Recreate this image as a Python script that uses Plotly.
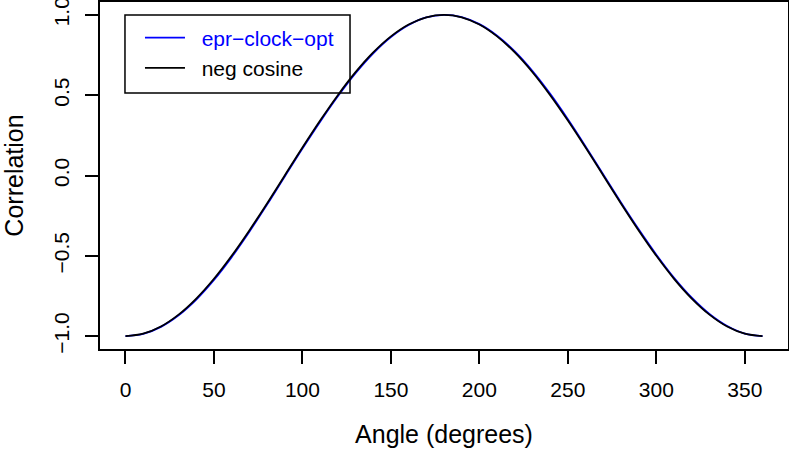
import plotly.graph_objects as go

# angle grid (degrees) and the two correlation curves
angle = [0, 10, 20, 30, 40, 50, 60, 70, 80, 90, 100, 110, 120, 130, 140, 150, 160, 170, 180,
         190, 200, 210, 220, 230, 240, 250, 260, 270, 280, 290, 300, 310, 320, 330, 340, 350, 360]

epr_clock_opt = [-1.0, -0.986, -0.942, -0.870, -0.772, -0.650, -0.508, -0.350, -0.181, -0.006,
                 0.168, 0.335, 0.493, 0.637, 0.761, 0.862, 0.937, 0.984, 1.0,
                 0.986, 0.942, 0.870, 0.772, 0.650, 0.508, 0.350, 0.181, 0.006,
                 -0.168, -0.335, -0.493, -0.637, -0.761, -0.862, -0.937, -0.984, -1.0]

neg_cosine = [-1.0, -0.985, -0.940, -0.866, -0.766, -0.643, -0.500, -0.342, -0.174, 0.0,
              0.174, 0.342, 0.500, 0.643, 0.766, 0.866, 0.940, 0.985, 1.0,
              0.985, 0.940, 0.866, 0.766, 0.643, 0.500, 0.342, 0.174, 0.0,
              -0.174, -0.342, -0.500, -0.643, -0.766, -0.866, -0.940, -0.985, -1.0]

x_ticks = [0, 50, 100, 150, 200, 250, 300, 350]
y_ticks = [-1.0, -0.5, 0.0, 0.5, 1.0]
y_labels = ["\u22121.0", "\u22120.5", "0.0", "0.5", "1.0"]

FONT = "Liberation Sans, Arial, Helvetica, sans-serif"
PAD = "\u00a0\u00a0"  # R leaves a wider gap between legend line and label

fig = go.Figure()
fig.add_trace(go.Scatter(
    x=angle, y=epr_clock_opt, mode="lines", line_shape="spline",
    line=dict(color="blue", width=1.8),
    name=PAD + "<span style='color:blue'>epr\u2212clock\u2212opt</span>",
))
fig.add_trace(go.Scatter(
    x=angle, y=neg_cosine, mode="lines", line_shape="spline",
    line=dict(color="black", width=1.8),
    name=PAD + "neg cosine",
))

# legend frame (R style box, transparent inside)
fig.add_shape(
    type="rect", xref="paper", yref="paper",
    x0=0.0363, x1=0.3634, y0=0.7378, y1=0.9625,
    line=dict(color="black", width=1.5), fillcolor="rgba(0,0,0,0)", layer="above",
)

fig.update_layout(
    width=789, height=455,
    template=None,
    plot_bgcolor="white",
    paper_bgcolor="white",
    font=dict(family=FONT, size=21, color="black"),
    margin=dict(l=100, r=1, t=2, b=106, autoexpand=False),
    showlegend=True,
    legend=dict(
        x=0.0581, y=0.9553, xanchor="left", yanchor="top",
        borderwidth=0, bgcolor="rgba(0,0,0,0)",
        itemwidth=40, tracegroupgap=0,
        font=dict(family=FONT, size=21, color="black"),
    ),
)

fig.update_xaxes(
    range=[-14.4, 374.4], tickvals=x_ticks, automargin=False,
    showline=True, mirror=True, linecolor="black", linewidth=1.5,
    ticks="outside", ticklen=13, tickwidth=1.5, tickcolor="black",
    ticklabelstandoff=8, ticklabeloverflow="allow",
    showgrid=False, zeroline=False,
    title=dict(text="Angle (degrees)", standoff=26),
)
fig.update_yaxes(
    range=[-1.08, 1.08], tickvals=y_ticks, ticktext=y_labels, tickangle=-90,
    automargin=False,
    showline=True, mirror=True, linecolor="black", linewidth=1.5,
    ticks="outside", ticklen=13, tickwidth=1.5, tickcolor="black",
    ticklabelstandoff=8, ticklabeloverflow="allow",
    showgrid=False, zeroline=False,
    title=dict(text="Correlation", standoff=29),
)

# drop the browser's default body margin so the figure sits at the window origin
fig.write_html(
    "out.html",
    config={"displayModeBar": False},
    post_script="document.body.style.margin='0px';",
)
